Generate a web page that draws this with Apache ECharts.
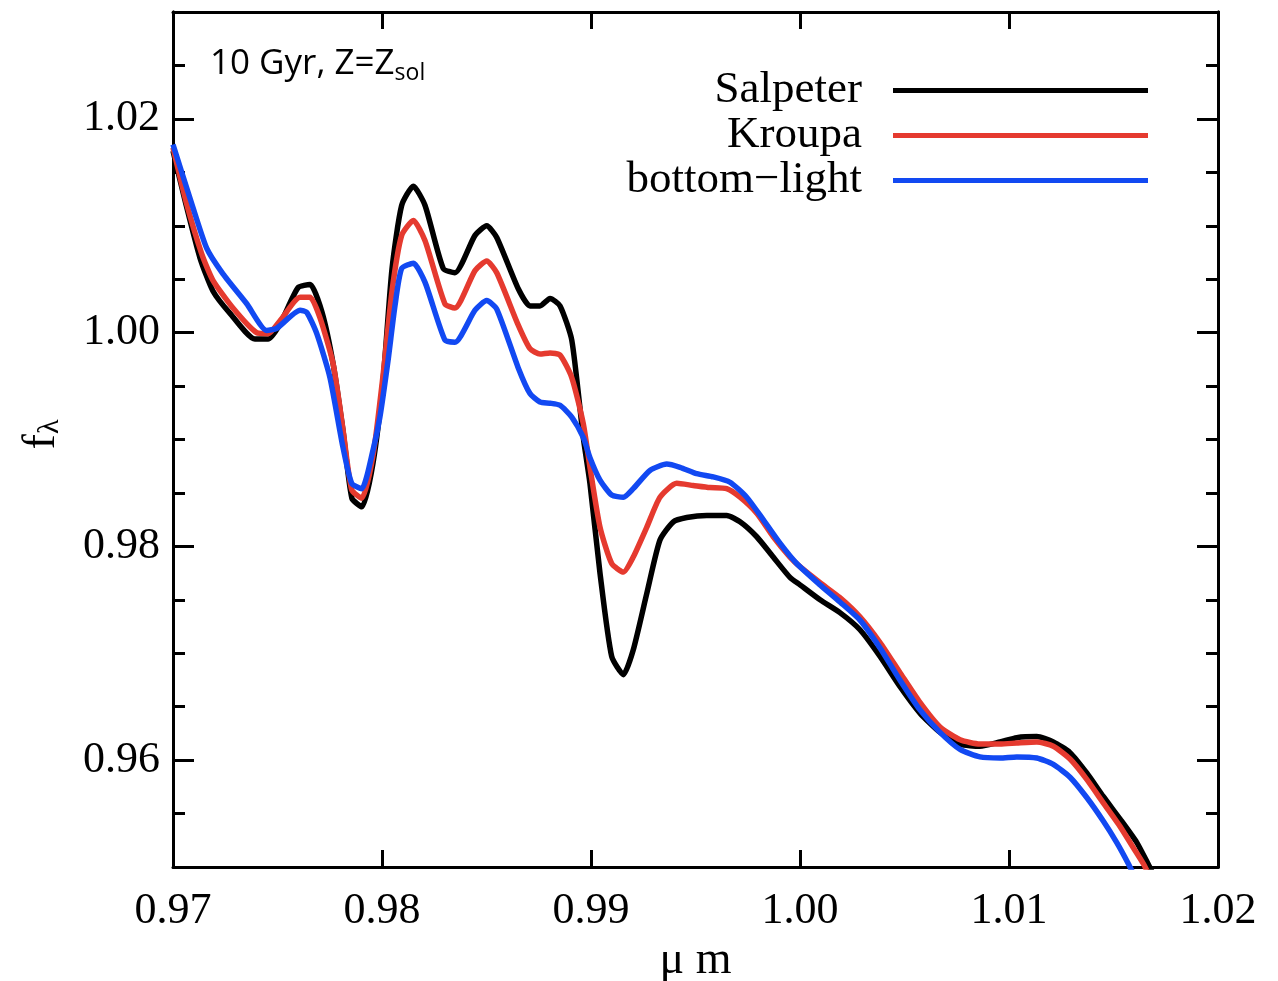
<!DOCTYPE html>
<html>
<head>
<meta charset="utf-8">
<script src="https://cdn.jsdelivr.net/npm/echarts@6/dist/echarts.min.js"></script>
<style>html,body{margin:0;padding:0;background:#fff}#c{width:1278px;height:981px}</style>
</head>
<body>
<div id="c"></div>
<script>
const xTicks = [0.97, 0.98, 0.99, 1.00, 1.01, 1.02];
const yLabelTicks = [0.96, 0.98, 1.00, 1.02];
const yMinorTicks = [0.955,0.96,0.965,0.97,0.975,0.98,0.985,0.99,0.995,1.0,1.005,1.01,1.015,1.02,1.025];

const salpeterX = [0.97000,0.97062,0.97129,0.97191,0.97273,0.97392,0.97455,0.97512,0.97598,0.97656,0.97713,0.97766,0.97813,0.97856,0.97904,0.97957,0.98005,0.98048,0.98094,0.98150,0.98206,0.98293,0.98349,0.98445,0.98501,0.98549,0.98652,0.98708,0.98756,0.98804,0.98852,0.98908,0.98963,0.98995,0.99043,0.99099,0.99155,0.99202,0.99267,0.99330,0.99394,0.99458,0.99554,0.99649,0.99713,0.99793,0.99872,0.99952,1.00000,1.00096,1.00191,1.00287,1.00383,1.00478,1.00574,1.00670,1.00766,1.00861,1.00957,1.01037,1.01133,1.01212,1.01292,1.01372,1.01451,1.01531,1.01611,1.01665,1.01722];
const salpeterY = [1.0170,1.0120,1.0070,1.0039,1.0018,0.9994,0.9994,1.0008,1.0042,1.0045,1.0019,0.9971,0.9909,0.9845,0.9837,0.9878,0.9955,1.0060,1.0119,1.0137,1.0119,1.0060,1.0056,1.0091,1.0100,1.0089,1.0041,1.0025,1.0025,1.0032,1.0025,0.9993,0.9902,0.9859,0.9775,0.9697,0.9680,0.9703,0.9756,0.9806,0.9823,0.9827,0.9829,0.9829,0.9823,0.9809,0.9790,0.9771,0.9764,0.9750,0.9738,0.9722,0.9697,0.9669,0.9644,0.9626,0.9615,0.9613,0.9617,0.9621,0.9622,0.9617,0.9607,0.9588,0.9566,0.9545,0.9523,0.9503,0.9481];

const kroupaX = [0.97000,0.97062,0.97137,0.97191,0.97287,0.97400,0.97455,0.97512,0.97608,0.97656,0.97703,0.97766,0.97813,0.97855,0.97903,0.97957,0.98005,0.98048,0.98094,0.98150,0.98206,0.98301,0.98349,0.98445,0.98501,0.98549,0.98652,0.98708,0.98756,0.98804,0.98852,0.98908,0.98963,0.98995,0.99043,0.99099,0.99155,0.99202,0.99267,0.99330,0.99410,0.99489,0.99569,0.99649,0.99713,0.99793,0.99872,0.99952,1.00000,1.00096,1.00191,1.00287,1.00383,1.00478,1.00574,1.00670,1.00766,1.00861,1.00957,1.01037,1.01133,1.01212,1.01292,1.01372,1.01451,1.01531,1.01595,1.01643,1.01699];
const kroupaY = [1.0173,1.0123,1.0074,1.0049,1.0023,1.0000,0.9999,1.0011,1.0033,1.0033,1.0014,0.9971,0.9910,0.9853,0.9845,0.9885,0.9960,1.0039,1.0091,1.0105,1.0086,1.0027,1.0023,1.0058,1.0067,1.0056,1.0007,0.9985,0.9980,0.9981,0.9979,0.9958,0.9915,0.9874,0.9818,0.9784,0.9776,0.9790,0.9818,0.9846,0.9859,0.9857,0.9855,0.9854,0.9846,0.9831,0.9809,0.9790,0.9781,0.9766,0.9752,0.9734,0.9710,0.9682,0.9654,0.9631,0.9619,0.9615,0.9615,0.9616,0.9617,0.9613,0.9601,0.9582,0.9560,0.9538,0.9518,0.9503,0.9481];

const bottomLightX = [0.97000,0.97081,0.97161,0.97239,0.97353,0.97448,0.97496,0.97608,0.97640,0.97688,0.97751,0.97813,0.97855,0.97903,0.97957,0.97990,0.98029,0.98062,0.98094,0.98150,0.98206,0.98301,0.98349,0.98445,0.98501,0.98549,0.98652,0.98708,0.98756,0.98804,0.98852,0.98908,0.98963,0.98995,0.99043,0.99099,0.99155,0.99202,0.99282,0.99362,0.99426,0.99506,0.99585,0.99665,0.99745,0.99824,0.99904,0.99984,1.00096,1.00191,1.00287,1.00383,1.00478,1.00574,1.00670,1.00766,1.00861,1.00957,1.01037,1.01133,1.01212,1.01292,1.01372,1.01451,1.01515,1.01571,1.01627];
const bottomLightY = [1.0176,1.0126,1.0079,1.0055,1.0027,1.0002,1.0004,1.0021,1.0019,0.9999,0.9958,0.9893,0.9859,0.9854,0.9890,0.9921,0.9974,1.0025,1.0060,1.0065,1.0047,0.9993,0.9991,1.0021,1.0030,1.0022,0.9967,0.9943,0.9935,0.9934,0.9932,0.9921,0.9902,0.9883,0.9862,0.9848,0.9846,0.9854,0.9871,0.9877,0.9874,0.9868,0.9865,0.9860,0.9846,0.9825,0.9803,0.9784,0.9764,0.9748,0.9731,0.9705,0.9675,0.9647,0.9626,0.9610,0.9603,0.9602,0.9603,0.9602,0.9596,0.9584,0.9565,0.9543,0.9523,0.9503,0.9481];

const seriesNames = ['Salpeter', 'Kroupa', 'bottom\u2212light'];
const seriesColors = ['#000000', '#e53a2f', '#1249f2'];

const pair = (xs, ys) => xs.map((x, i) => [x, ys[i]]);
const seriesData = [pair(salpeterX, salpeterY), pair(kroupaX, kroupaY), pair(bottomLightX, bottomLightY)];

const serif = 'Liberation Serif';
const chart = echarts.init(document.getElementById('c'), null, {renderer: 'canvas'});

const frameLine = {show: true, lineStyle: {color: '#000', width: 3}};
const yBase = {type: 'value', min: 0.95, max: 1.03, splitLine: {show: false}, axisLine: frameLine};

chart.setOption({
  animation: false,
  backgroundColor: '#fff',
  grid: {left: 173, right: 60, top: 12, bottom: 114, containLabel: false, outerBoundsMode: 'none'},
  xAxis: [
    {
      type: 'value', position: 'bottom', min: 0.97, max: 1.02, interval: 0.01,
      axisLine: frameLine, splitLine: {show: false},
      axisTick: {inside: true, length: 17, lineStyle: {color: '#000', width: 3}},
      axisLabel: {formatter: v => v.toFixed(2), fontFamily: serif, fontSize: 44, color: '#000', margin: 22},
      name: '\u03bc m', nameLocation: 'middle', nameGap: 70,
      nameTextStyle: {fontFamily: serif, fontSize: 46, color: '#000'}
    },
    {
      type: 'value', position: 'top', min: 0.97, max: 1.02, interval: 0.01,
      axisLine: frameLine, splitLine: {show: false},
      axisTick: {inside: true, length: 17, lineStyle: {color: '#000', width: 3}},
      axisLabel: {show: false}
    }
  ],
  yAxis: [
    Object.assign({}, yBase, {
      position: 'left',
      axisTick: {inside: true, length: 21, customValues: yLabelTicks, lineStyle: {color: '#000', width: 3}},
      axisLabel: {customValues: yLabelTicks, formatter: v => v.toFixed(2), fontFamily: serif, fontSize: 44, color: '#000', margin: 13},
      name: 'f{sub|\u03bb}', nameLocation: 'middle', nameRotate: 90, nameGap: 108,
      nameTextStyle: {fontFamily: serif, fontSize: 46, color: '#000', padding: [0, 0, 0, 10],
        rich: {sub: {fontFamily: serif, fontSize: 30, color: '#000', verticalAlign: 'bottom', padding: [16, 0, 0, 0]}}}
    }),
    Object.assign({}, yBase, {
      position: 'left',
      axisTick: {inside: true, length: 12, customValues: yMinorTicks, lineStyle: {color: '#000', width: 3}},
      axisLabel: {show: false}
    }),
    Object.assign({}, yBase, {
      position: 'right',
      axisTick: {inside: true, length: 21, customValues: yLabelTicks, lineStyle: {color: '#000', width: 3}},
      axisLabel: {show: false}
    }),
    Object.assign({}, yBase, {
      position: 'right',
      axisTick: {inside: true, length: 12, customValues: yMinorTicks, lineStyle: {color: '#000', width: 3}},
      axisLabel: {show: false}
    })
  ],
  legend: {
    orient: 'vertical', right: 125, top: 63, align: 'right',
    icon: 'rect', itemWidth: 255, itemHeight: 5, itemGap: 0,
    textStyle: {fontFamily: serif, fontSize: 45, color: '#000', padding: [0, 26, 0, 0]},
    data: seriesNames
  },
  graphic: [{
    type: 'text', left: 210, top: 47, z: 100,
    style: {
      text: '10 Gyr, Z=Z{sub|sol}',
      fontFamily: 'Open Sans', fontSize: 35, fill: '#000',
      rich: {sub: {fontFamily: 'Open Sans', fontSize: 23, fill: '#000', verticalAlign: 'bottom', padding: [18, 0, 0, 0]}}
    }
  }],
  series: seriesNames.map((n, i) => ({
    name: n, type: 'line', xAxisIndex: 0, yAxisIndex: 0,
    data: seriesData[i], showSymbol: false, symbol: 'none', clip: true, smooth: 0.2,
    lineStyle: {color: seriesColors[i], width: 5.5, join: 'round'},
    itemStyle: {color: seriesColors[i]}
  }))
});
</script>
</body>
</html>
